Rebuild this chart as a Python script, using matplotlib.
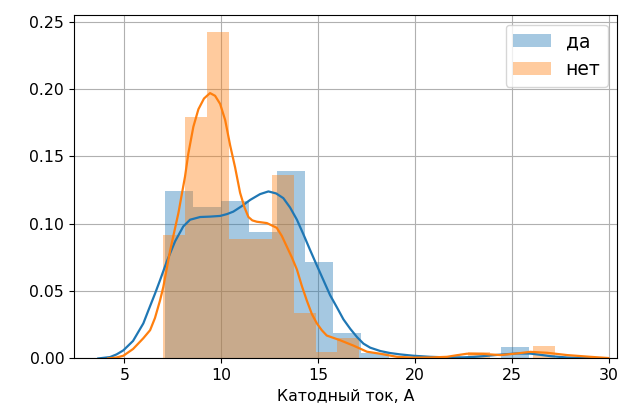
import numpy as np
import matplotlib
matplotlib.use("Agg")
import matplotlib.pyplot as plt

plt.rcParams['font.family'] = ['DejaVu Sans']
plt.rcParams['font.size'] = 11.3

# histogram bins (density)
yes_edges = [7.10, 8.54, 9.98, 11.43, 12.87, 14.31, 15.75, 17.19, 18.64,
             20.08, 21.52, 22.96, 24.40, 25.85]
yes_heights = [0.124, 0.1127, 0.117, 0.094, 0.1395, 0.0714, 0.019, 0.0042,
               0.0, 0.0, 0.0, 0.0, 0.0082]

no_edges = [7.01, 8.13, 9.25, 10.38, 11.50, 12.62, 13.74, 14.86, 15.99,
            17.11, 18.23, 19.35, 20.47, 21.60, 22.72, 23.84, 24.96, 26.08, 27.21]
no_heights = [0.092, 0.179, 0.242, 0.089, 0.089, 0.136, 0.034, 0.0045, 0.0153,
              0.0, 0.0, 0.0, 0.0, 0.0, 0.0045, 0.0, 0.0, 0.0094]

# kde curves
yes_kde_x = [3.66, 4.26, 4.60, 4.95, 5.45, 5.98, 6.25, 6.58, 6.84, 7.19, 7.62,
             8.04, 8.39, 8.91, 9.42, 9.94, 10.30, 10.62, 11.05, 11.49, 12.00,
             12.43, 12.83, 13.20, 13.55, 13.90, 14.24, 14.58, 14.93, 15.27, 15.61,
             15.96, 16.30, 16.65, 16.99, 17.33, 17.68, 18.20, 18.71, 19.23, 19.91,
             20.77, 21.64, 22.48, 23.00, 23.52, 24.05, 24.56, 25.25, 25.93, 26.45,
             26.97, 27.83, 29.03, 29.30]
yes_kde_y = [0.0, 0.001, 0.003, 0.006, 0.013, 0.026, 0.036, 0.048, 0.058, 0.072,
             0.087, 0.098, 0.103, 0.105, 0.1053, 0.1058, 0.1072, 0.109, 0.113,
             0.1177, 0.122, 0.124, 0.1225, 0.119, 0.112, 0.103, 0.092, 0.0805,
             0.069, 0.058, 0.047, 0.038, 0.029, 0.022, 0.016, 0.011, 0.008, 0.0055,
             0.004, 0.003, 0.002, 0.0012, 0.0008, 0.0008, 0.0011, 0.0017, 0.0024,
             0.003, 0.0037, 0.0036, 0.0027, 0.0017, 0.0007, 0.0002, 0.0]

no_kde_x = [4.16, 4.60, 4.95, 5.45, 5.98, 6.33, 6.58, 6.84, 7.01, 7.36, 7.79,
            8.13, 8.30, 8.56, 8.82, 9.11, 9.42, 9.68, 9.94, 10.20, 10.46, 10.71,
            10.97, 11.20, 11.40, 11.60, 11.83, 12.35, 12.86, 13.12, 13.38, 13.64,
            13.90, 14.15, 14.41, 14.67, 14.93, 15.18, 15.44, 16.13, 16.82, 17.51,
            18.19, 19.06, 19.90, 20.77, 21.64, 22.15, 22.67, 23.52, 24.39, 25.25,
            25.93, 26.80, 27.83, 29.03, 29.96]
no_kde_y = [0.0, 0.0007, 0.002, 0.007, 0.015, 0.021, 0.030, 0.043, 0.053, 0.080,
            0.108, 0.135, 0.152, 0.172, 0.185, 0.193, 0.197, 0.195, 0.189, 0.177,
            0.158, 0.142, 0.123, 0.112, 0.105, 0.1025, 0.1015, 0.1005, 0.097,
            0.091, 0.083, 0.075, 0.066, 0.054, 0.043, 0.033, 0.026, 0.021, 0.017,
            0.0135, 0.0095, 0.005, 0.0035, 0.0012, 0.0006, 0.0007, 0.0012, 0.0024,
            0.0035, 0.0033, 0.0025, 0.0037, 0.0049, 0.0042, 0.0025, 0.0012, 0.0003]

fig = plt.figure(figsize=(6.21, 4.12), dpi=100)
ax = fig.add_axes([0.119, 0.130, 0.875, 0.833])

ax.hist(yes_edges[:-1], bins=yes_edges, weights=yes_heights, color='C0', alpha=0.4, label='да')
ax.plot(yes_kde_x, yes_kde_y, color='C0', lw=1.6)
ax.hist(no_edges[:-1], bins=no_edges, weights=no_heights, color='C1', alpha=0.4, label='нет')
ax.plot(no_kde_x, no_kde_y, color='C1', lw=1.6)

ax.set_xlim(2.4, 30.42)
ax.set_ylim(0, 0.2548)
ax.set_xticks([5, 10, 15, 20, 25, 30])
ax.set_yticks([0.0, 0.05, 0.10, 0.15, 0.20, 0.25])
ax.yaxis.set_major_formatter(matplotlib.ticker.FormatStrFormatter('%.2f'))
ax.grid(True)
ax.set_axisbelow(True)
ax.set_xlabel("Катодный ток, А")
ax.legend(loc='upper right', fontsize=13.5)

fig.savefig("out.png", dpi=100)
